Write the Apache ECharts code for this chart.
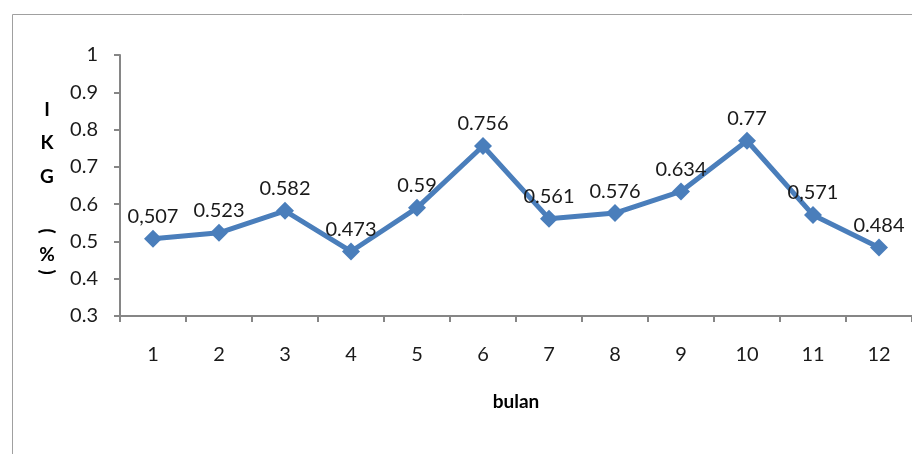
<!DOCTYPE html>
<html>
<head>
<meta charset="utf-8">
<script src="https://cdn.jsdelivr.net/npm/echarts@6/dist/echarts.min.js"></script>
<style>html,body{margin:0;padding:0;background:#fff;}#c{width:912px;height:454px;}</style>
</head>
<body>
<div id="c"></div>
<script>
var months = ['1','2','3','4','5','6','7','8','9','10','11','12'];
var ikgValues = [0.507, 0.523, 0.582, 0.473, 0.59, 0.756, 0.561, 0.576, 0.634, 0.77, 0.571, 0.484];
var valueLabels = ['0,507','0.523','0.582','0.473','0.59','0.756','0.561','0.576','0.634','0.77','0,571','0.484'];
var yTicks = ['0.3','0.4','0.5','0.6','0.7','0.8','0.9','1'];
var yTitleLetters = ['I','K','G'];
var yTitleUnit = ['(', '%', ')'];

var FONT = 'Lato';
var TXT = '#1a1a1a';
var chart = echarts.init(document.getElementById('c'), null, {renderer:'canvas'});

var titleStyle = {fontFamily: FONT, fontWeight: 'bold', fontSize: 19, fill: '#000', align: 'center', verticalAlign: 'middle'};
var graphics = [{
  type: 'rect', left: 10, top: 12,
  shape: {width: 1000, height: 600},
  style: {fill: 'none', stroke: '#a0a0a0', lineWidth: 1}, z: -1, silent: true
}];
var letterY = [110, 143, 177];
yTitleLetters.forEach(function (t, i) {
  graphics.push({type: 'text', x: 47, y: letterY[i], style: Object.assign({text: t}, titleStyle)});
});
var unitY = [231, 255, 272];
yTitleUnit.forEach(function (t, i) {
  graphics.push({
    type: 'text', x: 47, y: unitY[i],
    rotation: (t === '%') ? 0 : -Math.PI / 2,
    style: Object.assign({text: t}, titleStyle)
  });
});

chart.setOption({
  animation: false,
  backgroundColor: '#fff',
  textStyle: {fontFamily: FONT},
  graphic: graphics,
  grid: {left: 120, top: 55, right: -8, bottom: 138, containLabel: false},
  xAxis: {
    type: 'category',
    data: months,
    boundaryGap: true,
    name: 'bulan',
    nameLocation: 'middle',
    nameGap: 76,
    nameTextStyle: {fontFamily: FONT, fontWeight: 'bold', fontSize: 19, color: '#000'},
    axisLine: {show: true, lineStyle: {color: '#868686', width: 2}},
    axisTick: {show: true, alignWithLabel: false, length: 6, lineStyle: {color: '#868686', width: 2}},
    axisLabel: {fontFamily: FONT, fontSize: 20, color: TXT, margin: 29},
    splitLine: {show: false}
  },
  yAxis: {
    type: 'value',
    min: 0.3, max: 1, interval: 0.1,
    axisLine: {show: true, lineStyle: {color: '#868686', width: 2}},
    axisTick: {show: true, inside: false, length: 6, lineStyle: {color: '#868686', width: 2}},
    axisLabel: {
      fontFamily: FONT, fontSize: 20, color: TXT, margin: 22,
      formatter: function (v) {
        var idx = Math.round((v - 0.3) / 0.1);
        return yTicks[idx] !== undefined ? yTicks[idx] : String(v);
      }
    },
    splitLine: {show: false}
  },
  series: [{
    type: 'line',
    data: ikgValues,
    symbol: 'diamond',
    symbolSize: 18,
    lineStyle: {color: '#4a7ebb', width: 5},
    itemStyle: {color: '#4a7ebb'},
    label: {
      show: true, position: 'top', distance: 3,
      fontFamily: FONT, fontSize: 20, color: TXT,
      formatter: function (p) { return valueLabels[p.dataIndex]; }
    }
  }]
});
</script>
</body>
</html>
